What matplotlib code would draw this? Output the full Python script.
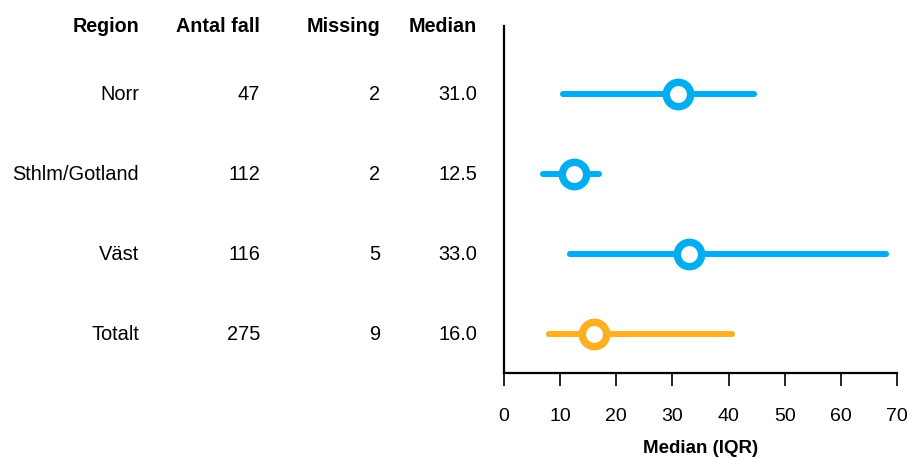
import matplotlib
matplotlib.use("Agg")
import matplotlib.pyplot as plt
from matplotlib.transforms import blended_transform_factory

plt.rcParams['font.family'] = ['Liberation Sans', 'DejaVu Sans']

regions = ["Norr", "Sthlm/Gotland", "Väst", "Totalt"]
antal = [47, 112, 116, 275]
missing = [2, 2, 5, 9]
median = [31.0, 12.5, 33.0, 16.0]
q1 = [10.5, 7.0, 11.7, 8.0]
q3 = [44.5, 17.0, 68.0, 40.6]
colors = ["#00AEEF", "#00AEEF", "#00AEEF", "#FBB022"]

headers = ["Region", "Antal fall", "Missing", "Median"]
col_x = [139, 260, 380, 477]  # right edges in pixels

W, H = 908, 458
fig = plt.figure(figsize=(W / 100, H / 100), dpi=100)
ax = fig.add_axes([504 / W, (H - 373.3) / H, (897 - 504) / W, (373.3 - 26) / H])

for i in range(len(regions)):
    ax.plot([q1[i], q3[i]], [i, i], color=colors[i], lw=4.4,
            solid_capstyle='round', zorder=2)
    ax.plot(median[i], i, 'o', ms=17.5, mfc='white', mec=colors[i],
            mew=5.4, zorder=3)

ax.set_xlim(0, 70)
ax.set_ylim(3.49, -0.85)
ax.set_xticks(range(0, 71, 10))
ax.set_yticks([])
for s in ['top', 'right']:
    ax.spines[s].set_visible(False)
ax.spines['left'].set_linewidth(1.6)
ax.spines['bottom'].set_linewidth(1.6)
ax.tick_params(axis='x', length=9.5, width=1.2, pad=15.5, labelsize=14)
ax.set_xlabel("Median (IQR)", fontweight='bold', fontsize=13.5, labelpad=11)

tr = blended_transform_factory(fig.transFigure, ax.transData)
y_head = -0.85
for j, h in enumerate(headers):
    ax.text(col_x[j] / W, y_head, h, transform=tr, ha='right', va='center',
            fontweight='bold', fontsize=14.2, clip_on=False)

for i in range(len(regions)):
    vals = [regions[i], str(antal[i]), str(missing[i]), "%.1f" % median[i]]
    for j, v in enumerate(vals):
        ax.text(col_x[j] / W, i, v, transform=tr, ha='right', va='center',
                fontsize=14.4, clip_on=False)

fig.savefig("out.png", dpi=100)
